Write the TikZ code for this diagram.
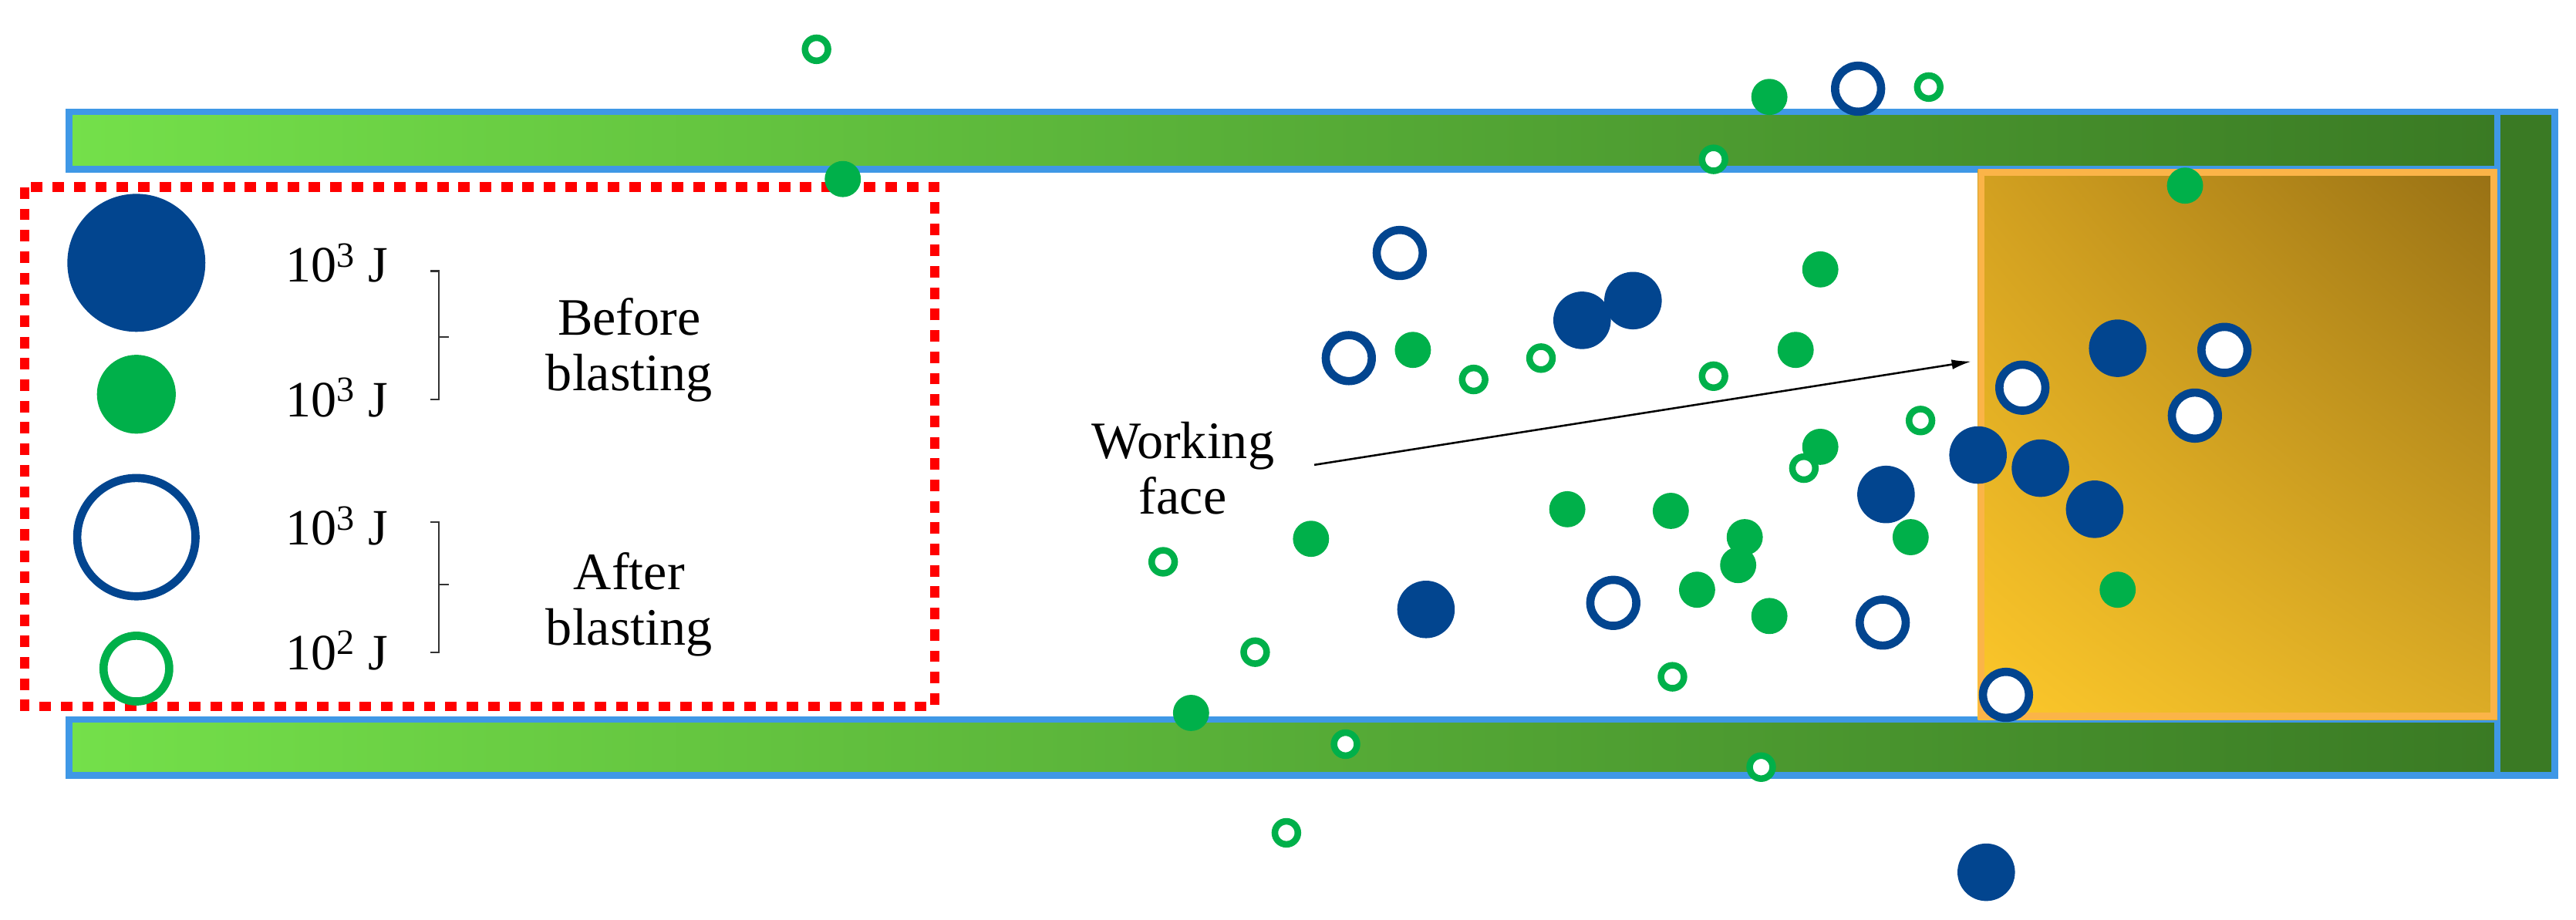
\documentclass[tikz,border=0pt]{standalone}
\usepackage{fontspec}
\setmainfont{Liberation Serif}
\usetikzlibrary{arrows.meta,shadings}
\definecolor{navy}{HTML}{02458F}
\definecolor{gr}{HTML}{00B04A}
\definecolor{bl}{HTML}{3F98E6}
\definecolor{lg}{HTML}{74E04A}
\definecolor{dg}{HTML}{3A7A24}
\definecolor{org}{HTML}{FBB448}
\definecolor{gur}{HTML}{977014}
\definecolor{gll}{HTML}{FDC82A}
\definecolor{gul}{HTML}{D2A020}
\definecolor{glr}{HTML}{DCAC26}
\tikzset{
 N/.style={circle,fill=navy,inner sep=0,minimum size=35pt},
 R/.style={circle,draw=navy,fill=white,line width=5pt,inner sep=0,minimum size=28pt},
 G/.style={circle,fill=gr,inner sep=0,minimum size=22pt},
 g/.style={circle,draw=gr,fill=white,line width=4pt,inner sep=0,minimum size=14pt},
 lbl/.style={font=\fontsize{31}{31}\selectfont,inner sep=0},
 big/.style={font=\fontsize{32}{34}\selectfont,align=center,inner sep=0},
 brk/.style={line width=1pt,black!80}
}
\begin{document}
\begin{tikzpicture}[x=1pt,y=-1pt]
\useasboundingbox (0,0) rectangle (1568,560);
% bars
\shade[left color=lg,right color=dg] (42,68) rectangle (1520,103);
\draw[bl,line width=4pt] (42,68) rectangle (1520,103);
\shade[left color=lg,right color=dg] (42,438) rectangle (1520,472);
\draw[bl,line width=4pt] (42,438) rectangle (1520,472);
\fill[dg] (1520,68) rectangle (1555,472);
\draw[bl,line width=4pt] (1520,68) rectangle (1555,472);
% working face
\shade[upper right=gur,lower left=gll,upper left=gul,lower right=glr] (1204,103) rectangle (1520,438);
\draw[org,line width=4pt] (1206,105) rectangle (1518,436);
% legend box
\draw[red,line width=6pt,dash pattern=on 7pt off 6pt] (15,114) rectangle (569,430);
\node[N,minimum size=84pt] (l1) at (83,160) {};
\node[G,minimum size=48pt] (l2) at (83,240) {};
\node[R,minimum size=72pt] (l3) at (83,327) {};
\node[g,minimum size=40pt,line width=5pt] (l4) at (83,407) {};
\node[lbl] (t1) at (205,160) {10\textsuperscript{3} J};
\node[lbl] (t2) at (205,242) {10\textsuperscript{3} J};
\node[lbl] (t3) at (205,320) {10\textsuperscript{3} J};
\node[lbl] (t4) at (205,396) {10\textsuperscript{2} J};
\draw[brk] (262,165) -- (267,165) -- (267,243) -- (262,243);
\draw[brk] (267,205) -- (273,205);
\draw[brk] (262,318) -- (267,318) -- (267,397) -- (262,397);
\draw[brk] (267,356) -- (273,356);
\node[big] (bb) at (383,213) {Before\\blasting};
\node[big] (ab) at (383,368) {After\\blasting};
% label
\node[big] (wf) at (720,285) {Working\\face};
\coordinate (as) at (800,283);
\coordinate (ae) at (1200,220);
\draw[line width=1.2pt,-{Latex[length=12pt,width=6pt]}] (as) -- (ae);
% particles
\foreach \t/\x/\y [count=\i] in {
g/497/30,G/1077/59,R/1131/54,g/1174/53,G/513/109,g/1043/97,G/1330/113,R/852/154,G/1108/164,
N/963/195,N/994/183,R/821/218,G/860/213,g/897/231,g/938/218,g/1043/229,G/1093/213,R/1231/236,
N/1289/212,R/1354/213,R/1336/253,g/1169/256,G/1108/272,g/1098/285,N/1204/277,N/1242/285,N/1148/301,
N/1275/310,G/798/328,G/954/310,G/1017/311,G/1062/327,G/1163/327,g/708/342,G/1058/344,G/1033/359,
N/868/371,R/982/367,G/1077/375,R/1146/379,G/1289/359,g/764/397,g/1018/412,R/1221/423,G/725/434,
g/819/453,g/1072/467,g/783/507,N/1209/531}
 \node[\t] (p\i) at (\x,\y) {};
\end{tikzpicture}
\end{document}
